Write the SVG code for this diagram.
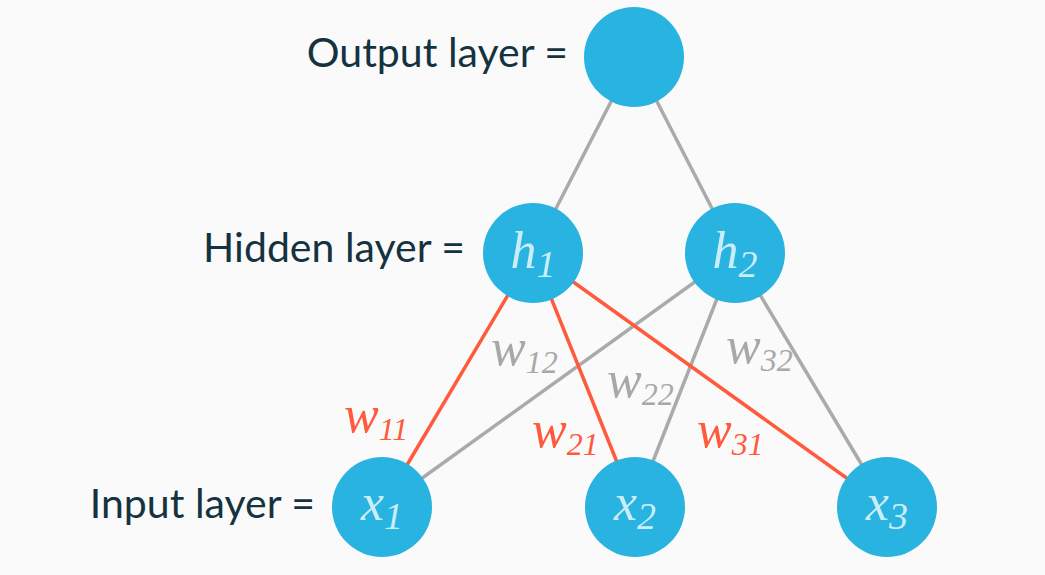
<svg xmlns="http://www.w3.org/2000/svg" width="1045" height="575" viewBox="0 0 1045 575">
<style>
.bg{fill:#fafafa}
.node{fill:#28b3e0}
.lbl{font-family:"Lato","Noto Sans",sans-serif;font-size:41px;fill:#15333f}
.math{font-family:"Liberation Serif",serif;font-style:italic;font-size:52px;fill:#c9eef9}
.sub{font-size:38px}
.w{font-family:"Liberation Serif",serif;font-style:italic;font-size:52px}
.wsub{font-size:32px}
.red{fill:#ff5a3c}
.gray{fill:#a8a8a8}
.ered{stroke:#ff5a3c;stroke-width:3.5;fill:none}
.egray{stroke:#aaaaaa;stroke-width:3.5;fill:none}
</style>
<rect class="bg" x="0" y="0" width="1045" height="575"/>
<g id="connectors">
<line class="egray" x1="634" y1="57" x2="533" y2="253"/>
<line class="egray" x1="634" y1="57" x2="735" y2="253"/>
<line class="egray" x1="735" y1="253" x2="382" y2="507"/>
<line class="egray" x1="735" y1="253" x2="635" y2="507"/>
<line class="egray" x1="735" y1="253" x2="887" y2="507"/>
<line class="ered" x1="533" y1="253" x2="382" y2="507"/>
<line class="ered" x1="533" y1="253" x2="635" y2="507"/>
<line class="ered" x1="533" y1="253" x2="887" y2="507"/>
</g>
<g id="weights">
<text class="w red" x="344" y="432">w<tspan class="wsub" dy="8">11</tspan></text>
<text class="w gray" x="491" y="365">w<tspan class="wsub" dy="8">12</tspan></text>
<text class="w red" x="532" y="447">w<tspan class="wsub" dy="8">21</tspan></text>
<text class="w gray" x="607" y="397">w<tspan class="wsub" dy="8">22</tspan></text>
<text class="w red" x="697" y="447">w<tspan class="wsub" dy="8">31</tspan></text>
<text class="w gray" x="726" y="363">w<tspan class="wsub" dy="8">32</tspan></text>
</g>
<g id="output">
<circle class="node" cx="634" cy="57" r="50"/>
<text class="lbl" x="568" y="67" text-anchor="end">Output layer =</text>
</g>
<g id="h1">
<circle class="node" cx="533" cy="253" r="50"/>
<text class="math" x="533" y="268" text-anchor="middle">h<tspan class="sub" dy="9">1</tspan></text>
</g>
<g id="h2">
<circle class="node" cx="735" cy="253" r="50"/>
<text class="math" x="735" y="268" text-anchor="middle">h<tspan class="sub" dy="9">2</tspan></text>
</g>
<g id="hidden-label">
<text class="lbl" x="465" y="262" text-anchor="end">Hidden layer =</text>
</g>
<g id="x1">
<circle class="node" cx="382" cy="507" r="50"/>
<text class="math" x="382" y="520" text-anchor="middle">x<tspan class="sub" dy="9">1</tspan></text>
</g>
<g id="x2">
<circle class="node" cx="635" cy="507" r="50"/>
<text class="math" x="635" y="520" text-anchor="middle">x<tspan class="sub" dy="9">2</tspan></text>
</g>
<g id="x3">
<circle class="node" cx="887" cy="507" r="50"/>
<text class="math" x="887" y="520" text-anchor="middle">x<tspan class="sub" dy="9">3</tspan></text>
</g>
<g id="input-label">
<text class="lbl" x="315" y="518" text-anchor="end">Input layer =</text>
</g>
</svg>
